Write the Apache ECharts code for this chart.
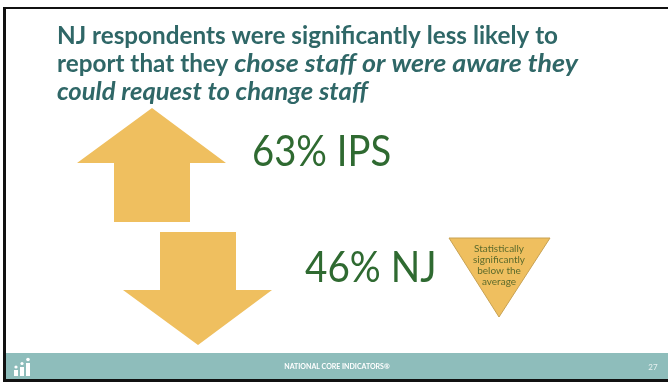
<!DOCTYPE html>
<html>
<head>
<meta charset="utf-8">
<script src="https://cdn.jsdelivr.net/npm/echarts@6/dist/echarts.min.js"></script>
<style>
  html, body { margin: 0; padding: 0; background: #ffffff; }
  #chart { width: 668px; height: 382px; }
</style>
</head>
<body>
<div id="chart"></div>
<script>
// Slide content
const titlePlain = 'NJ respondents were significantly less likely to';
const titleLead = 'report that they ';
const titleItalicA = 'chose staff or were aware they';
const titleItalicB = 'could request to change staff';
const groups = ['IPS', 'NJ'];
const percents = [63, 46];
const badgeLines = ['Statistically', 'significantly', 'below the', 'average'];
const footerText = 'NATIONAL CORE INDICATORS\u00AE';
const pageNumber = '27';

const TITLE_COLOR = '#2f6767';
const VALUE_COLOR = '#2f6a31';
const ARROW_COLOR = '#efbf5f';
const FOOTER_COLOR = '#8ebdbb';
const FONT = 'Lato, "Open Sans", sans-serif';
const TITLE_SIZE = 24;

const chart = echarts.init(document.getElementById('chart'), null, { renderer: 'canvas' });

// Text measurement, used to fit title runs to a narrow humanist face
const measureCtx = document.createElement('canvas').getContext('2d');
function textWidth(text, italic) {
  measureCtx.font = (italic ? 'italic ' : '') + 'bold ' + TITLE_SIZE + 'px ' + FONT;
  return measureCtx.measureText(text).width;
}

const TITLE_X = 57;
const TITLE_RIGHT_2 = 578;
const line1Scale = 501 / textWidth(titlePlain, false);
const italicScale = 311 / textWidth(titleItalicB, true);
const leadWidth = textWidth(titleLead, false) * line1Scale;
const italicAScale = (TITLE_RIGHT_2 - TITLE_X - leadWidth) / textWidth(titleItalicA, true);

function titleRun(text, x, mid, italic, scale) {
  return {
    type: 'text', x: x, y: mid, scaleX: scale,
    style: {
      text: text, fontFamily: FONT, fontWeight: 'bold', fontStyle: italic ? 'italic' : 'normal',
      fontSize: TITLE_SIZE, fill: TITLE_COLOR, verticalAlign: 'middle'
    }
  };
}

function arrowUp(cx, top) {
  return [[cx, top], [cx + 74, top + 55], [cx + 38, top + 55], [cx + 38, top + 114],
          [cx - 38, top + 114], [cx - 38, top + 55], [cx - 75, top + 55]];
}
function arrowDown(cx, top) {
  return [[cx - 38, top], [cx + 38, top], [cx + 38, top + 58], [cx + 74, top + 58],
          [cx, top + 113], [cx - 75, top + 58], [cx - 38, top + 58]];
}

const graphics = [
  // slide frame
  { type: 'rect', shape: { x: 3, y: 7, width: 665, height: 2 }, style: { fill: '#111' } },
  { type: 'rect', shape: { x: 3, y: 7, width: 3, height: 375 }, style: { fill: '#111' } },
  { type: 'rect', shape: { x: 6, y: 353, width: 662, height: 26 }, style: { fill: FOOTER_COLOR } },
  { type: 'rect', shape: { x: 3, y: 379, width: 665, height: 3 }, style: { fill: '#111' } },

  // title
  titleRun(titlePlain, TITLE_X, 36, false, line1Scale),
  titleRun(titleLead, TITLE_X, 64, false, line1Scale),
  titleRun(titleItalicA, TITLE_X + leadWidth, 64, true, italicAScale),
  titleRun(titleItalicB, TITLE_X, 92, true, italicScale),

  // arrows
  { type: 'polygon', shape: { points: arrowUp(152, 108) }, style: { fill: ARROW_COLOR } },
  { type: 'polygon', shape: { points: arrowDown(198, 232) }, style: { fill: ARROW_COLOR } },

  // percentages
  { type: 'text', x: 252, y: 152, scaleX: 0.91, style: { text: percents[0] + '% ' + groups[0], fontFamily: FONT, fontSize: 42, fill: VALUE_COLOR, verticalAlign: 'middle' } },
  { type: 'text', x: 305, y: 268, scaleX: 0.92, style: { text: percents[1] + '% ' + groups[1], fontFamily: FONT, fontSize: 42, fill: VALUE_COLOR, verticalAlign: 'middle' } },

  // badge
  { type: 'polygon', shape: { points: [[449, 238], [550, 238], [499, 317]] }, style: { fill: ARROW_COLOR, stroke: '#c8a253', lineWidth: 1 } },
  { type: 'text', x: 499, y: 243, style: { text: badgeLines.join('\n'), fontFamily: FONT, fontSize: 10, lineHeight: 11, fill: '#5c6b2c', align: 'center', verticalAlign: 'top' } },

  // footer
  { type: 'text', x: 337, y: 367, style: { text: footerText, fontFamily: FONT, fontWeight: 'bold', fontSize: 7, fill: '#ffffff', align: 'center', verticalAlign: 'middle' } },
  { type: 'text', x: 653, y: 367, style: { text: pageNumber, fontFamily: FONT, fontSize: 8, fill: '#e6f1f0', align: 'center', verticalAlign: 'middle' } },

  // logo
  { type: 'rect', shape: { x: 14, y: 370, width: 4, height: 6 }, style: { fill: '#ffffff' } },
  { type: 'rect', shape: { x: 20, y: 367, width: 4, height: 9 }, style: { fill: '#ffffff' } },
  { type: 'rect', shape: { x: 26, y: 363, width: 4, height: 13 }, style: { fill: '#ffffff' } },
  { type: 'circle', shape: { cx: 16, cy: 367, r: 1.6 }, style: { fill: '#ffffff' } },
  { type: 'circle', shape: { cx: 22, cy: 363.5, r: 1.6 }, style: { fill: '#ffffff' } },
  { type: 'circle', shape: { cx: 28, cy: 359.5, r: 1.8 }, style: { fill: '#ffffff' } }
];

chart.setOption({
  backgroundColor: '#ffffff',
  animation: false,
  graphic: { elements: graphics }
});
</script>
</body>
</html>
